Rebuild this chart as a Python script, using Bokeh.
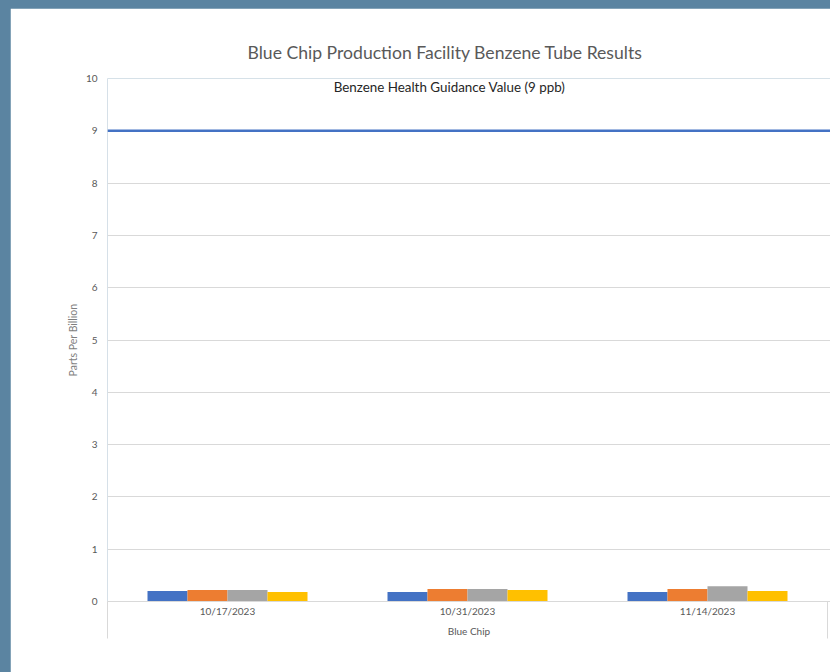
from bokeh.plotting import figure
from bokeh.models import FixedTicker, Span, Label, Title
from bokeh.embed import file_html
from bokeh.resources import INLINE

# ---- data ----
dates = ["10/17/2023", "10/31/2023", "11/14/2023"]
group_label = "Blue Chip"
series_1 = [0.20, 0.18, 0.18]
series_2 = [0.22, 0.24, 0.24]
series_3 = [0.22, 0.24, 0.29]
series_4 = [0.18, 0.22, 0.20]
guidance_value = 9
guidance_text = "Benzene Health Guidance Value (9 ppb)"
y_ticks = [0, 1, 2, 3, 4, 5, 6, 7, 8, 9, 10]
title_text = "Blue Chip Production Facility Benzene Tube Results"

colors = ["#4472C4", "#ED7D31", "#A5A5A5", "#FFC000"]
series = [series_1, series_2, series_3, series_4]

FONT = "Lato"
n = len(dates)
centers = [i + 0.5 for i in range(n)]
frame_w = 723
x_end = frame_w / 240.0

p = figure(width=820, height=664, output_backend="svg", toolbar_location=None,
           x_range=(0, x_end), y_range=(0, 10),
           min_border_left=97, min_border_right=0, min_border_top=70,
           min_border_bottom=71)
p.margin = (8, 0, 0, 10)
p.outline_line_color = None
p.background_fill_color = "white"
p.border_fill_color = "white"

bar_w = 1 / 6.0
offsets = [-1.5 * bar_w, -0.5 * bar_w, 0.5 * bar_w, 1.5 * bar_w]
for vals, col, off in zip(series, colors, offsets):
    p.vbar(x=[c + off for c in centers], top=vals, bottom=0, width=bar_w,
           fill_color=col, line_color=None)

p.add_layout(Span(location=guidance_value, dimension="width",
                  line_color="#4472C4", line_width=2.5))

p.add_layout(Label(x=1.425, y=9.83, text=guidance_text, text_align="center",
                   text_baseline="middle", text_font=FONT, text_font_size="13.4px",
                   text_color="#262626"))

# title
p.title = Title(text=title_text, align="left", offset=140,
                text_font=FONT, text_font_size="17.6px", text_font_style="normal",
                text_color="#595959", standoff=31)

# y axis
p.yaxis.ticker = FixedTicker(ticks=y_ticks)
p.yaxis.axis_line_color = None
p.yaxis.major_tick_line_color = None
p.yaxis.minor_tick_line_color = None
p.yaxis.major_tick_out = 0
p.yaxis.major_tick_in = 0
p.yaxis.minor_tick_out = 0
p.yaxis.minor_tick_in = 0
p.yaxis.major_label_standoff = 10
p.yaxis.major_label_text_font = FONT
p.yaxis.major_label_text_font_size = "10px"
p.yaxis.major_label_text_color = "#595959"
p.yaxis.axis_label = "Parts Per Billion"
p.yaxis.axis_label_text_font = FONT
p.yaxis.axis_label_text_font_size = "10.5px"
p.yaxis.axis_label_text_font_style = "normal"
p.yaxis.axis_label_text_color = "#7f7f7f"
p.yaxis.axis_label_standoff = 4

p.ygrid.ticker = FixedTicker(ticks=y_ticks)
p.ygrid.grid_line_color = "#d9d9d9"
p.xgrid.visible = False

# x axis
p.xaxis.ticker = FixedTicker(ticks=centers, minor_ticks=[0, n])
p.xaxis.major_label_overrides = {c: d for c, d in zip(centers, dates)}
p.xaxis.axis_line_color = "#d9d9d9"
p.xaxis.major_tick_line_color = None
p.xaxis.major_tick_out = 0
p.xaxis.major_tick_in = 0
p.xaxis.minor_tick_line_color = "#d9d9d9"
p.xaxis.minor_tick_out = 37
p.xaxis.minor_tick_in = 0
p.xaxis.major_label_standoff = -34
p.xaxis.major_label_text_font = FONT
p.xaxis.major_label_text_font_size = "10px"
p.xaxis.major_label_text_color = "#595959"
p.xaxis.axis_label = group_label
p.xaxis.axis_label_text_font = FONT
p.xaxis.axis_label_text_font_size = "10px"
p.xaxis.axis_label_text_font_style = "normal"
p.xaxis.axis_label_text_color = "#595959"
p.xaxis.axis_label_standoff = 5

html = file_html(p, INLINE)
html = html.replace("<body>", '<body style="background-color:#5b84a1;">')
open("out.html", "w").write(html)
